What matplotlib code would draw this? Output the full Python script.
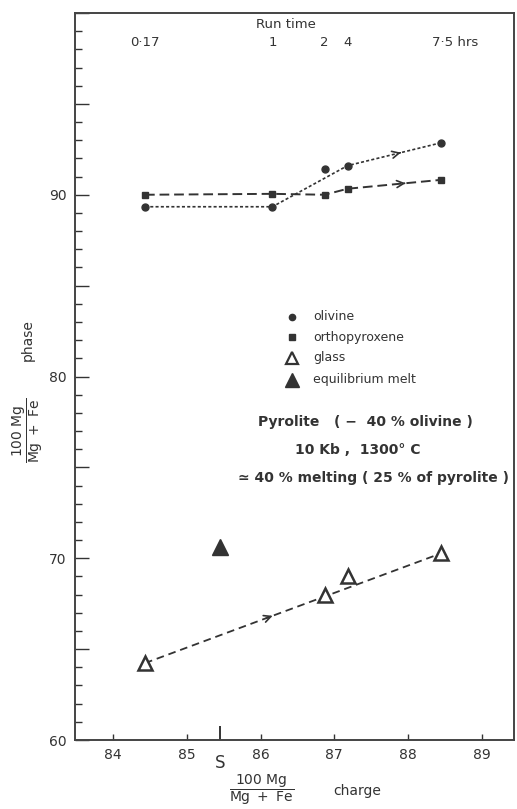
import matplotlib
matplotlib.use("Agg")
import matplotlib.pyplot as plt
import matplotlib.transforms as mtransforms
from matplotlib.ticker import MultipleLocator, FuncFormatter

plt.rcParams['font.family'] = ['DejaVu Sans']
plt.rcParams['mathtext.fontset'] = 'dejavusans'
plt.rcParams['lines.scale_dashes'] = False

# ---- data ----
run_times = ["0·17", "1", "2", "4", "7·5 hrs"]
charge_x = [84.43, 86.16, 86.87, 87.18, 88.45]
olivine_y = [89.34, 89.34, 91.43, 91.6, 92.86]
opx_y = [90.0, 90.05, 90.0, 90.33, 90.82]
glass_y = [64.23, 67.97, 69.0, 70.27]
glass_x = [84.43, 86.87, 87.18, 88.45]
melt_x = [85.45]
melt_y = [70.6]
S_x = 85.45

legend_labels = ["olivine", "orthopyroxene", "glass", "equilibrium melt"]
notes = ["Pyrolite   ( −  40 % olivine )", "10 Kb ,  1300° C",
         "≃ 40 % melting ( 25 % of pyrolite )"]

C = "#333333"

fig = plt.figure(figsize=(5.17, 8.09), dpi=100)
ax = fig.add_axes([75/517, 69/809, 439/517, 727/809])
ax.set_xlim(83.48, 89.44)
ax.set_ylim(60, 100)

for s in ax.spines.values():
    s.set_color("#444444")
    s.set_linewidth(1.4)

ax.xaxis.set_major_locator(MultipleLocator(1))
ax.yaxis.set_major_locator(MultipleLocator(5))
ax.yaxis.set_minor_locator(MultipleLocator(1))
ax.yaxis.set_major_formatter(FuncFormatter(lambda v, p: f"{int(v)}" if (v % 10 == 0 and v < 100) else ""))
ax.tick_params(axis='x', direction='in', length=4, width=1, colors=C, labelsize=10, pad=6, top=False)
ax.tick_params(axis='y', which='major', direction='in', length=10, width=1, colors=C, labelsize=10, pad=6, right=False)
ax.tick_params(axis='y', which='minor', direction='in', length=5, width=1, colors=C, right=False)
ax.set_xticks([84, 85, 86, 87, 88, 89])

# S marker tick
ax.vlines(S_x, 60, 60.75, color=C, lw=1.4)
ax.text(S_x, -0.032, "S", transform=mtransforms.blended_transform_factory(ax.transData, ax.transAxes),
        ha='center', va='center', fontsize=12, color=C)

def arrow_on(x0, y0, x1, y1, frac):
    xa = x0 + (x1 - x0) * frac
    ya = y0 + (y1 - y0) * frac
    dx = (x1 - x0) * 0.02
    dy = (y1 - y0) * 0.02
    ax.annotate("", xy=(xa + dx, ya + dy), xytext=(xa - dx, ya - dy),
                arrowprops=dict(arrowstyle="->,head_length=0.5,head_width=0.25", color=C, lw=1.2))

# olivine line (dotted) : skip 2 h point
ol_line_x = [charge_x[0], charge_x[1], charge_x[3], charge_x[4]]
ol_line_y = [olivine_y[0], olivine_y[1], olivine_y[3], olivine_y[4]]
ax.plot(ol_line_x, ol_line_y, color=C, lw=1.2, dashes=(2.2, 1.6))
arrow_on(ol_line_x[2], ol_line_y[2], ol_line_x[3], ol_line_y[3], 0.55)

# orthopyroxene line (long dashes)
ax.plot(charge_x, opx_y, color=C, lw=1.4, dashes=(7, 3.5))
arrow_on(charge_x[3], opx_y[3], charge_x[4], opx_y[4], 0.6)

# glass trend line
ax.plot([glass_x[0], glass_x[-1]], [glass_y[0], glass_y[-1]], color=C, lw=1.3, dashes=(5.5, 3.5))
arrow_on(glass_x[0], glass_y[0], glass_x[-1], glass_y[-1], 0.42)

ax.plot(charge_x, olivine_y, 'o', color=C, ms=5, zorder=5)
ax.plot(charge_x, opx_y, 's', color=C, ms=5, zorder=5)
ax.plot(glass_x, glass_y, '^', mfc='white', mec=C, mew=1.8, ms=10, zorder=5)
ax.plot(melt_x, melt_y, '^', color=C, ms=11, zorder=5)

# legend (manual)
leg_style = [dict(marker='o', color=C, ms=4.5), dict(marker='s', color=C, ms=4.5),
             dict(marker='^', mfc='white', mec=C, mew=1.6, ms=9), dict(marker='^', color=C, ms=10)]
leg_y = [317, 337, 358, 380]
for lab, st, py in zip(legend_labels, leg_style, leg_y):
    yf = (809 - 69 - py) / 727
    ax.plot([(292 - 75) / 439], [yf], transform=ax.transAxes, ls='none', **st)
    ax.text((313 - 75) / 439, yf, lab, transform=ax.transAxes, ha='left', va='center',
            fontsize=9, color=C)

note_xy = [(365, 422), (358, 450), (374, 478)]
for t, (px, py) in zip(notes, note_xy):
    ax.text((px - 75) / 439, (809 - 69 - py) / 727, t, transform=ax.transAxes,
            ha='center', va='center', fontsize=10, fontweight='bold', color=C)

# top run time labels
bt = mtransforms.blended_transform_factory(ax.transData, ax.transAxes)
yl = (809 - 69 - 43) / 727
for lab, x in zip(run_times, charge_x):
    if lab.endswith("hrs"):
        ax.text(x - 0.12, yl, lab, transform=bt, ha='left', va='center', fontsize=9.5, color=C)
    else:
        ax.text(x, yl, lab, transform=bt, ha='center', va='center', fontsize=9.5, color=C)
ax.text((286 - 75) / 439, (809 - 69 - 24) / 727, "Run time", transform=ax.transAxes,
        ha='center', va='center', fontsize=9.5, color=C)

# axis labels
frac = r"$\dfrac{100\ \mathrm{Mg}}{\mathrm{Mg}\ +\ \mathrm{Fe}}$"
fig.text(262 / 517, 1 - 790 / 809, frac, ha='center', va='center', fontsize=10, color=C)
fig.text(357 / 517, 1 - 791 / 809, "charge", ha='center', va='center', fontsize=10, color=C)
fig.text(28 / 517, 1 - 430 / 809, frac, ha='center', va='center', fontsize=10, color=C, rotation=90)
fig.text(28 / 517, 1 - 340 / 809, "phase", ha='center', va='center', fontsize=10, color=C, rotation=90)

fig.savefig("out.png", dpi=100)
